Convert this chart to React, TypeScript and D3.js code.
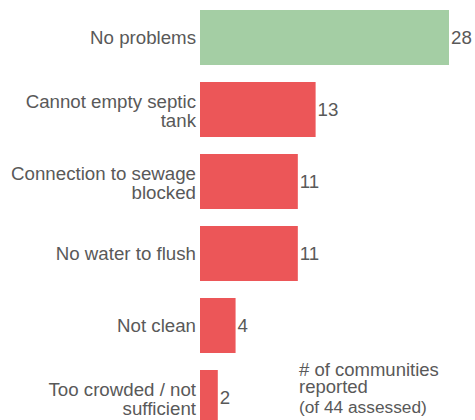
import React from "react";
import * as d3 from "d3";

const categories: string[][] = [
  ["No problems"],
  ["Cannot empty septic", "tank"],
  ["Connection to sewage", "blocked"],
  ["No water to flush"],
  ["Not clean"],
  ["Too crowded / not", "sufficient"],
];
const values: number[] = [28, 13, 11, 11, 4, 2];
const highlight: boolean[] = [true, false, false, false, false, false];
const noteLines: string[] = ["# of communities", "reported"];
const noteSub = "(of 44 assessed)";

const W = 475;
const H = 420;
const TEXT = "#595959";
const GREEN = "#a4cea4";
const RED = "#ec5658";
const FONT = "'Liberation Sans', Arial, Helvetica, sans-serif";

export default function App() {
  const ids = categories.map((_, i) => String(i));
  const y = d3
    .scaleBand<string>()
    .domain(ids)
    .range([10, 425])
    .paddingInner(17 / 72)
    .paddingOuter(0);
  const x = d3.scaleLinear().domain([0, 28]).range([200, 449]);
  const fs = 18.7;
  const lh = 19;

  return (
    <svg
      width={W}
      height={H}
      style={{ position: "absolute", left: 0, top: 0, background: "#fff" }}
      fontFamily={FONT}
    >
      {values.map((v, i) => {
        const yy = y(ids[i])!;
        const bw = y.bandwidth();
        const cy = yy + bw / 2;
        const lines = categories[i];
        const startY = cy - ((lines.length - 1) * lh) / 2 + (lines.length > 1 ? 1 : 0);
        return (
          <g key={i}>
            <rect
              x={x(0)}
              y={yy}
              width={x(v) - x(0)}
              height={bw}
              fill={highlight[i] ? GREEN : RED}
            />
            {lines.map((t, j) => (
              <text
                key={j}
                x={196}
                y={startY + j * lh}
                textAnchor="end"
                dominantBaseline="central"
                fontSize={fs}
                fill={TEXT}
              >
                {t}
              </text>
            ))}
            <text
              x={x(v) + 2}
              y={cy}
              dominantBaseline="central"
              fontSize={fs}
              fill={TEXT}
            >
              {v}
            </text>
          </g>
        );
      })}
      {noteLines.map((t, j) => (
        <text key={j} x={299} y={376 + j * 16.5} fontSize={18.5} fill={TEXT}>
          {t}
        </text>
      ))}
      <text x={299} y={413} fontSize={17.3} fill={TEXT}>
        {noteSub}
      </text>
    </svg>
  );
}
